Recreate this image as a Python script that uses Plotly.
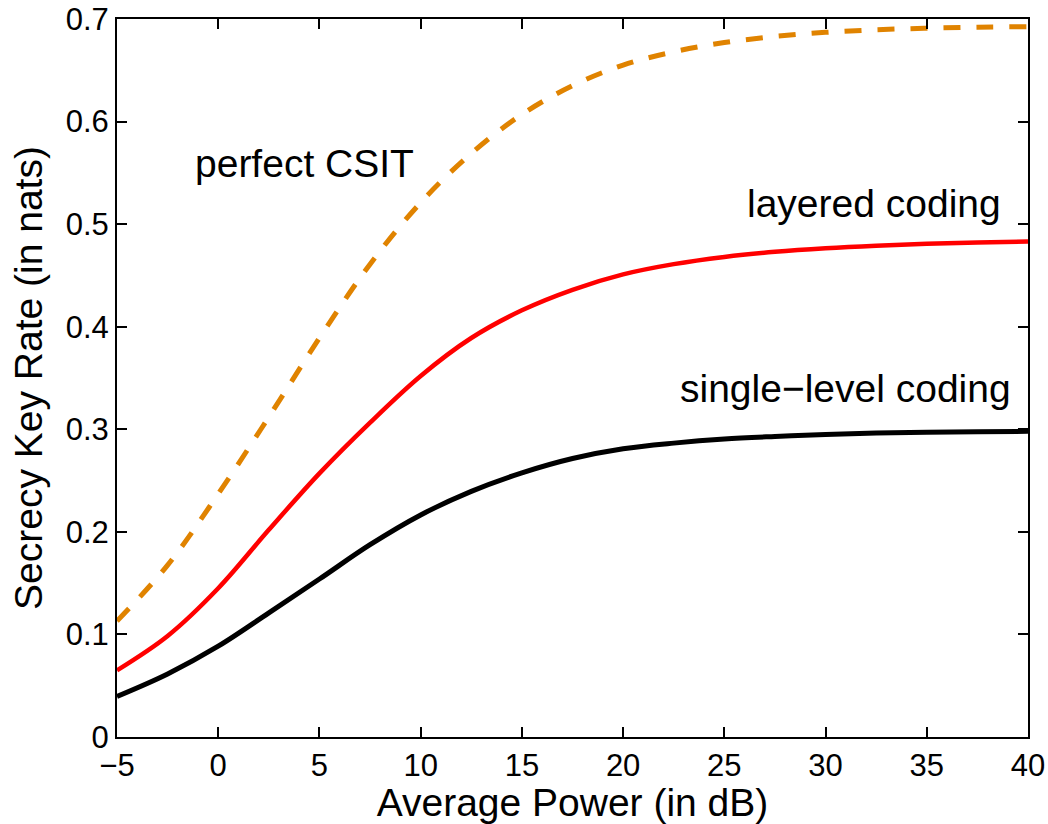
import plotly.graph_objects as go

# average power in dB
power_db = [-5, -2.5, 0, 2.5, 5, 7.5, 10, 12.5, 15, 17.5, 20, 22.5, 25, 27.5, 30, 32.5, 35, 37.5, 40]

# secrecy key rate (nats)
perfect_csit = [0.113, 0.1675, 0.237, 0.312, 0.389, 0.461, 0.521, 0.569, 0.607, 0.635, 0.655,
                0.668, 0.677, 0.683, 0.687, 0.6895, 0.691, 0.692, 0.6925]
layered = [0.065, 0.0985, 0.145, 0.202, 0.257, 0.3065, 0.352, 0.389, 0.416, 0.436, 0.451,
           0.461, 0.468, 0.473, 0.4765, 0.479, 0.4808, 0.482, 0.483]
single_level = [0.0396, 0.0615, 0.0885, 0.121, 0.154, 0.1875, 0.2165, 0.2395, 0.2575, 0.2715, 0.281,
                0.2865, 0.2905, 0.293, 0.295, 0.2963, 0.2972, 0.2977, 0.298]

x_ticks = [-5, 0, 5, 10, 15, 20, 25, 30, 35, 40]
x_ticktext = ["\u22125", "0", "5", "10", "15", "20", "25", "30", "35", "40"]
y_ticks = [0, 0.1, 0.2, 0.3, 0.4, 0.5, 0.6, 0.7]
y_ticktext = ["0", "0.1", "0.2", "0.3", "0.4", "0.5", "0.6", "0.7"]

font = "Liberation Sans, Arial, Helvetica, sans-serif"

fig = go.Figure()
fig.add_trace(go.Scatter(x=power_db, y=perfect_csit, mode="lines", line_shape="spline",
                         line=dict(color="#e08300", width=5, dash="17px,16px")))
fig.add_trace(go.Scatter(x=power_db, y=layered, mode="lines", line_shape="spline",
                         line=dict(color="#ff0000", width=4.5)))
fig.add_trace(go.Scatter(x=power_db, y=single_level, mode="lines", line_shape="spline",
                         line=dict(color="#000000", width=5)))

# curve labels
fig.add_annotation(x=-1.25, y=0.559, text="perfect CSIT", xanchor="left", yanchor="middle", showarrow=False)
fig.add_annotation(x=38.76, y=0.520, text="layered coding", xanchor="right", yanchor="middle", showarrow=False)
fig.add_annotation(x=39.25, y=0.3395, text="single\u2212level coding", xanchor="right", yanchor="middle", showarrow=False)

axis_style = dict(showline=True, linecolor="black", linewidth=2, mirror="ticks",
                  ticks="inside", ticklen=10, tickwidth=1.5, tickcolor="black",
                  showgrid=False, zeroline=False, automargin=False,
                  ticklabeloverflow="allow", tickfont=dict(size=31, color="black"))

fig.update_layout(
    width=1048, height=824,
    margin=dict(l=117, r=20, t=19, b=87),
    paper_bgcolor="white", plot_bgcolor="white",
    font=dict(family=font, size=39, color="black"),
    showlegend=False,
    xaxis=dict(range=[-5, 40], tickvals=x_ticks, ticktext=x_ticktext,
               title=dict(text="Average Power (in dB)", standoff=4, font=dict(size=39)), **axis_style),
    yaxis=dict(range=[0, 0.7], tickvals=y_ticks, ticktext=y_ticktext,
               title=dict(text="Secrecy Key Rate (in nats)", standoff=11, font=dict(size=39)), **axis_style),
)

# drop the page's default body margin so the figure fills the window exactly
fig.write_html("out.html", config={"displayModeBar": False},
               post_script="document.body.style.margin = '0px'; document.body.style.overflow = 'hidden';")
